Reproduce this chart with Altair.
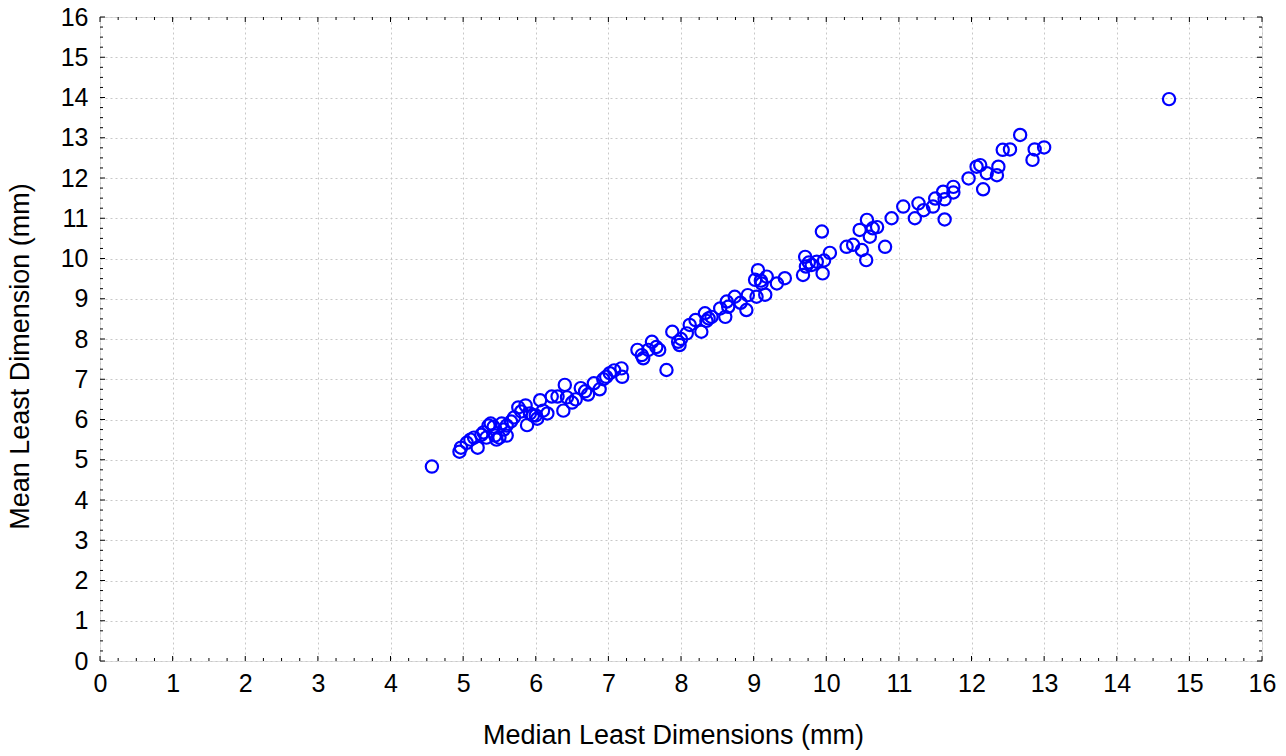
import altair as alt
import pandas as pd

# Median least dimension (x) vs mean least dimension (y), mm
median_least = [
    4.57, 4.95, 4.97, 5.05, 5.10, 5.15, 5.20, 5.25, 5.28, 5.32,
    5.35, 5.38, 5.42, 5.44, 5.46, 5.50, 5.53, 5.56, 5.60, 5.60,
    5.66, 5.70, 5.76, 5.80, 5.86, 5.88, 5.92, 5.96, 6.00, 6.02,
    6.06, 6.10, 6.16, 6.22, 6.30, 6.38, 6.40, 6.43, 6.50, 6.55,
    6.62, 6.68, 6.72, 6.80, 6.88, 6.93, 6.97, 7.02, 7.08, 7.18,
    7.19, 7.40, 7.46, 7.48, 7.55, 7.60, 7.66, 7.70, 7.80, 7.88,
    7.96, 7.98, 8.00, 8.08, 8.12, 8.20, 8.28, 8.33, 8.35, 8.38,
    8.42, 8.54, 8.61, 8.63, 8.65, 8.74, 8.82, 8.90, 8.92, 9.02,
    9.04, 9.06, 9.10, 9.11, 9.16, 9.18, 9.32, 9.43, 9.68, 9.71,
    9.72, 9.76, 9.80, 9.87, 9.94, 9.95, 9.97, 10.05, 10.28, 10.37,
    10.46, 10.49, 10.55, 10.56, 10.60, 10.64, 10.70, 10.81, 10.90, 11.06,
    11.22, 11.27, 11.34, 11.47, 11.50, 11.61, 11.63, 11.63, 11.75, 11.75,
    11.96, 12.07, 12.12, 12.16, 12.21, 12.35, 12.37, 12.43, 12.53, 12.67,
    12.84, 12.87, 13.00, 14.72,
]
mean_least = [
    4.83, 5.20, 5.30, 5.42, 5.50, 5.55, 5.30, 5.62, 5.68, 5.55,
    5.85, 5.90, 5.82, 5.60, 5.50, 5.55, 5.90, 5.75, 5.85, 5.60,
    5.95, 6.05, 6.30, 6.20, 6.35, 5.86, 6.15, 6.10, 6.10, 6.02,
    6.48, 6.22, 6.15, 6.57, 6.57, 6.22, 6.86, 6.55, 6.42, 6.50,
    6.78, 6.70, 6.62, 6.90, 6.75, 7.00, 7.06, 7.15, 7.22, 7.27,
    7.06, 7.73, 7.60, 7.52, 7.73, 7.93, 7.80, 7.73, 7.23, 8.18,
    7.93, 7.85, 8.00, 8.14, 8.35, 8.47, 8.18, 8.64, 8.45, 8.51,
    8.55, 8.76, 8.55, 8.93, 8.80, 9.05, 8.90, 8.72, 9.09, 9.47,
    9.05, 9.71, 9.45, 9.38, 9.10, 9.55, 9.38, 9.51, 9.59, 10.04,
    9.80, 9.90, 9.84, 9.92, 10.67, 9.63, 9.95, 10.14, 10.29, 10.34,
    10.71, 10.21, 9.96, 10.96, 10.54, 10.75, 10.78, 10.29, 11.00, 11.29,
    11.00, 11.37, 11.20, 11.29, 11.49, 11.66, 10.97, 11.47, 11.78, 11.64,
    11.99, 12.28, 12.32, 11.72, 12.12, 12.07, 12.28, 12.70, 12.71, 13.07,
    12.45, 12.71, 12.76, 13.96,
]

axis_values = list(range(0, 17))
minor_values = [i / 4 for i in range(65) if i % 4 != 0]

W, H = 1162, 644
FONT = "Liberation Sans"

df = pd.DataFrame({"median": median_least, "mean": mean_least})
xs = alt.Scale(domain=[0, 16], nice=False, zero=False)
ys = alt.Scale(domain=[0, 16], nice=False, zero=False)

common_axis = dict(
    values=axis_values, ticks=False, tickSize=0, domain=False,
    grid=True, gridColor="#c8c8c8", gridDash=[2, 3], gridWidth=1,
    labelFont=FONT, labelFontSize=25, labelColor="black",
    titleFont=FONT, titleFontSize=27, titleColor="black", titleFontWeight="normal",
    labelFlush=False, labelOverlap=False,
)
x_axis = alt.Axis(
    title="Median Least Dimensions (mm)", labelPadding=10,
    titleX=573, titleY=82, titleAlign="center", titleBaseline="alphabetic",
    **common_axis)
y_axis = alt.Axis(
    title="Mean Least Dimension (mm)", labelPadding=12,
    titleX=-72, titleY=339, titleAlign="center", titleBaseline="alphabetic", titleAngle=270,
    **common_axis)

points = alt.Chart(df).mark_point(
    shape="circle", filled=False, size=150, strokeWidth=2.2, color="#0000ff", opacity=1
).encode(
    x=alt.X("median:Q", scale=xs, axis=x_axis, title="Median Least Dimensions (mm)"),
    y=alt.Y("mean:Q", scale=ys, axis=y_axis, title="Mean Least Dimension (mm)"),
)

major_df = pd.DataFrame({"v": axis_values})
minor_df = pd.DataFrame({"v": minor_values})


def tick_layers(d, length):
    base = alt.Chart(d).mark_rule(color="black", strokeWidth=1)
    xe = alt.X("v:Q", scale=xs, axis=x_axis, title="Median Least Dimensions (mm)")
    ye = alt.Y("v:Q", scale=ys, axis=y_axis, title="Mean Least Dimension (mm)")
    bottom = base.encode(x=xe, y=alt.value(H), y2=alt.value(H - length))
    top = base.encode(x=xe, y=alt.value(0), y2=alt.value(length))
    left = base.encode(y=ye, x=alt.value(0), x2=alt.value(length))
    right = base.encode(y=ye, x=alt.value(W), x2=alt.value(W - length))
    return [bottom, top, left, right]


chart = alt.layer(
    points, *tick_layers(major_df, 5), *tick_layers(minor_df, 3)
).properties(
    width=W, height=H,
    autosize=alt.AutoSizeParams(type="none"),
    padding={"left": 100, "top": 17, "right": 24, "bottom": 95},
).configure_view(
    stroke="black", strokeWidth=1.5
).configure(background="white")

chart.save("out.html", embed_options={"renderer": "svg", "actions": False})
